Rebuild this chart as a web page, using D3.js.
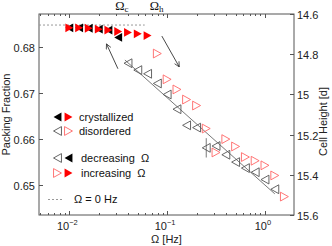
<!DOCTYPE html>
<html>
<head>
<meta charset="utf-8">
<script src="https://cdn.jsdelivr.net/npm/d3@7"></script>
<style>
  body { margin: 0; background: #fff; }
  svg { display: block; font-family: "Liberation Sans", Arial, sans-serif; }
</style>
</head>
<body>
<svg width="332" height="246"></svg>
<script>
// crystallized branch (filled markers)
const crystFreqInc = [0.01, 0.0126, 0.0158, 0.02, 0.0251, 0.0316, 0.0398, 0.0501, 0.0631];
const crystPhiInc  = [0.6841, 0.6841, 0.6840, 0.6838, 0.6836, 0.6833, 0.6831, 0.6828, 0.6824];
const crystFreqDec = [0.01, 0.0126, 0.0158, 0.02, 0.0251, 0.0316];
const crystPhiDec  = [0.6841, 0.6841, 0.6840, 0.6838, 0.6836, 0.6820];

// disordered branch (open markers)
const disFreqDec = [0.0398, 0.0501, 0.0631, 0.0794, 0.1, 0.126, 0.158, 0.2, 0.251, 0.316, 0.398, 0.501, 0.631, 0.794, 1.0, 1.26];
const disPhiDec  = [0.6764, 0.6749, 0.6741, 0.6720, 0.6696, 0.6664, 0.6629, 0.6624, 0.6580, 0.6584, 0.6565, 0.6549, 0.6536, 0.6527, 0.6511, 0.6490];
const disFreqInc = [0.0794, 0.1, 0.126, 0.158, 0.2, 0.251, 0.316, 0.398, 0.501, 0.631, 0.794, 1.0, 1.26, 1.58];
const disPhiInc  = [0.6785, 0.6729, 0.6707, 0.6685, 0.6672, 0.6622, 0.6570, 0.6599, 0.6583, 0.6560, 0.6552, 0.6542, 0.6520, 0.6474];

// one error bar on the decreasing branch
const errFreq = [0.251];
const errPhi = [0.6580];
const errSize = [0.0021];

// linear fit through the disordered points
const fitFreq = [0.037, 1.26];
const fitPhi = [0.6771, 0.6480];

// reference level at zero rotation
const zeroPhi = 0.6847;
const zeroFreq = [0.0049, 0.059];

// annotation arrows [tail, head]
const arrowFreq = [[0.0314, 0.024], [0.0883, 0.133]];
const arrowPhi = [[0.6752, 0.6806], [0.6823, 0.6756]];

const topLabels = [{ base: "Ω", sub: "c", f: 0.0345 }, { base: "Ω", sub: "h", f: 0.078 }];
const leftTicks = [0.65, 0.66, 0.67, 0.68];
const rightTicks = [14.6, 14.8, 15, 15.2, 15.4, 15.6];
const xMajor = [0.01, 0.1, 1];
const xExp = ["−2", "−1", "0"];

const svg = d3.select("svg");
const L = 39, R = 294, T = 14, B = 215;
const axisCol = "#555";

const x = d3.scaleLog().domain([0.0049, 1.98]).range([L, R]);
const y = d3.scaleLinear().domain([0.6434, 0.6871]).range([B, T]);
const y2 = d3.scaleLinear().domain([15.6, 14.6]).range([B, T]);

function tri(dir, s) {
  // dir = 1 right, -1 left
  const w = 3.6 * s, h = 4 * s;
  return "M" + (dir * w) + ",0L" + (-dir * w) + "," + (-h) + "L" + (-dir * w) + "," + h + "Z";
}

// frame
svg.append("rect").attr("x", L).attr("y", T).attr("width", R - L).attr("height", B - T)
  .attr("fill", "none").attr("stroke", axisCol).attr("stroke-width", 1);

// x ticks (log, inward on top and bottom)
x.ticks().forEach(function (t) {
  const major = xMajor.some(function (m) { return Math.abs(m - t) / m < 1e-6; });
  const len = major ? 4 : 2;
  const px = Math.round(x(t)) + 0.5;
  svg.append("line").attr("x1", px).attr("x2", px).attr("y1", B).attr("y2", B - len).attr("stroke", axisCol);
  svg.append("line").attr("x1", px).attr("x2", px).attr("y1", T).attr("y2", T + len).attr("stroke", axisCol);
});
xMajor.forEach(function (t, i) {
  const tx = svg.append("text").attr("x", x(t) - 2).attr("y", 230).attr("text-anchor", "middle")
    .attr("font-size", 11).attr("fill", "#222");
  tx.append("tspan").text("10");
  tx.append("tspan").attr("dy", -5).attr("font-size", 7.5).text(xExp[i]);
});

// left ticks
leftTicks.forEach(function (t) {
  const py = Math.round(y(t)) + 0.5;
  svg.append("line").attr("x1", L).attr("x2", L + 4).attr("y1", py).attr("y2", py).attr("stroke", axisCol);
  svg.append("text").attr("x", L - 4).attr("y", py + 4).attr("text-anchor", "end")
    .attr("font-size", 11).attr("fill", "#222").text(d3.format(".2f")(t));
});

// right ticks
rightTicks.forEach(function (t) {
  const py = Math.round(y2(t)) + 0.5;
  svg.append("line").attr("x1", R).attr("x2", R - 4).attr("y1", py).attr("y2", py).attr("stroke", axisCol);
  svg.append("text").attr("x", R + 3).attr("y", py + 4).attr("text-anchor", "start")
    .attr("font-size", 11).attr("fill", "#222").text(t);
});

// axis titles
svg.append("text").attr("transform", "translate(10," + ((T + B) / 2) + ") rotate(-90)")
  .attr("text-anchor", "middle").attr("font-size", 11).attr("fill", "#222").text("Packing Fraction");
svg.append("text").attr("transform", "translate(327," + ((T + B) / 2 + 7) + ") rotate(-90)")
  .attr("text-anchor", "middle").attr("font-size", 11).attr("fill", "#222").text("Cell Height [d]");
svg.append("text").attr("x", (L + R) / 2).attr("y", 243).attr("text-anchor", "middle")
  .attr("font-size", 11).attr("fill", "#222").text("Ω [Hz]");

// top labels
topLabels.forEach(function (d) {
  const tx = svg.append("text").attr("x", x(d.f)).attr("y", 9.5).attr("text-anchor", "middle")
    .attr("font-family", "'Liberation Serif', serif").attr("font-size", 12.5).attr("fill", "#111");
  tx.append("tspan").text(d.base);
  tx.append("tspan").attr("dy", 2).attr("font-size", 9).text(d.sub);
});

// zero-rotation reference line
svg.append("line").attr("x1", x(zeroFreq[0])).attr("x2", x(zeroFreq[1]))
  .attr("y1", y(zeroPhi)).attr("y2", y(zeroPhi))
  .attr("stroke", "#999").attr("stroke-dasharray", "2,2");

// fit line
svg.append("line").attr("x1", x(fitFreq[0])).attr("y1", y(fitPhi[0]))
  .attr("x2", x(fitFreq[1])).attr("y2", y(fitPhi[1]))
  .attr("stroke", "#555").attr("stroke-width", 0.8);

// arrows
svg.append("defs").append("marker").attr("id", "ah").attr("viewBox", "0 0 10 10")
  .attr("refX", 9).attr("refY", 5).attr("markerWidth", 7).attr("markerHeight", 7)
  .attr("orient", "auto").append("path").attr("d", "M1,1L9,5L1,9").attr("fill", "none")
  .attr("stroke", "#333").attr("stroke-width", 1.2);
arrowFreq.forEach(function (f, i) {
  svg.append("line").attr("x1", x(f[0])).attr("y1", y(arrowPhi[i][0]))
    .attr("x2", x(f[1])).attr("y2", y(arrowPhi[i][1]))
    .attr("stroke", "#333").attr("stroke-width", 0.9).attr("marker-end", "url(#ah)");
});

// error bar
errFreq.forEach(function (f, i) {
  svg.append("line").attr("x1", x(f)).attr("x2", x(f))
    .attr("y1", y(errPhi[i] - errSize[i])).attr("y2", y(errPhi[i] + errSize[i]))
    .attr("stroke", "#555").attr("stroke-width", 0.8);
});

function plotPts(freq, phi, dir, fill, stroke) {
  svg.append("g").selectAll("path").data(d3.zip(freq, phi)).enter().append("path")
    .attr("transform", function (d) { return "translate(" + x(d[0]) + "," + y(d[1]) + ")"; })
    .attr("d", tri(dir, 1.1))
    .attr("fill", fill).attr("stroke", stroke).attr("stroke-width", 0.9);
}

plotPts(disFreqDec, disPhiDec, -1, "none", "#555");
plotPts(disFreqInc, disPhiInc, 1, "none", "#f66");
plotPts(crystFreqDec, crystPhiDec, -1, "#000", "none");
plotPts(crystFreqInc, crystPhiInc, 1, "#f00", "none");

// legend
const leg = [
  { y: 117, m: [[-1, "#000", "none"], [1, "#f00", "none"]], t: "crystallized", tx: 79 },
  { y: 131, m: [[-1, "none", "#555"], [1, "none", "#f66"]], t: "disordered", tx: 79 },
  { y: 158, m: [[-1, "none", "#555"], [-1, "#000", "none"]], t: "decreasing  Ω", tx: 81 },
  { y: 173, m: [[1, "none", "#f66"], [1, "#f00", "none"]], t: "increasing  Ω", tx: 81 }
];
leg.forEach(function (d) {
  d.m.forEach(function (m, j) {
    svg.append("path").attr("transform", "translate(" + (57.5 + j * 11) + "," + d.y + ")")
      .attr("d", tri(m[0], 1.1)).attr("fill", m[1]).attr("stroke", m[2]).attr("stroke-width", 0.9);
  });
  svg.append("text").attr("x", d.tx).attr("y", d.y + 4).attr("font-size", 11).attr("fill", "#111")
    .attr("xml:space", "preserve").style("white-space", "pre").text(d.t);
});
svg.append("line").attr("x1", 48).attr("x2", 63).attr("y1", 199.5).attr("y2", 199.5)
  .attr("stroke", "#999").attr("stroke-dasharray", "2,2");
svg.append("text").attr("x", 74).attr("y", 203).attr("font-size", 11).attr("fill", "#111").text("Ω = 0 Hz");
</script>
</body>
</html>
